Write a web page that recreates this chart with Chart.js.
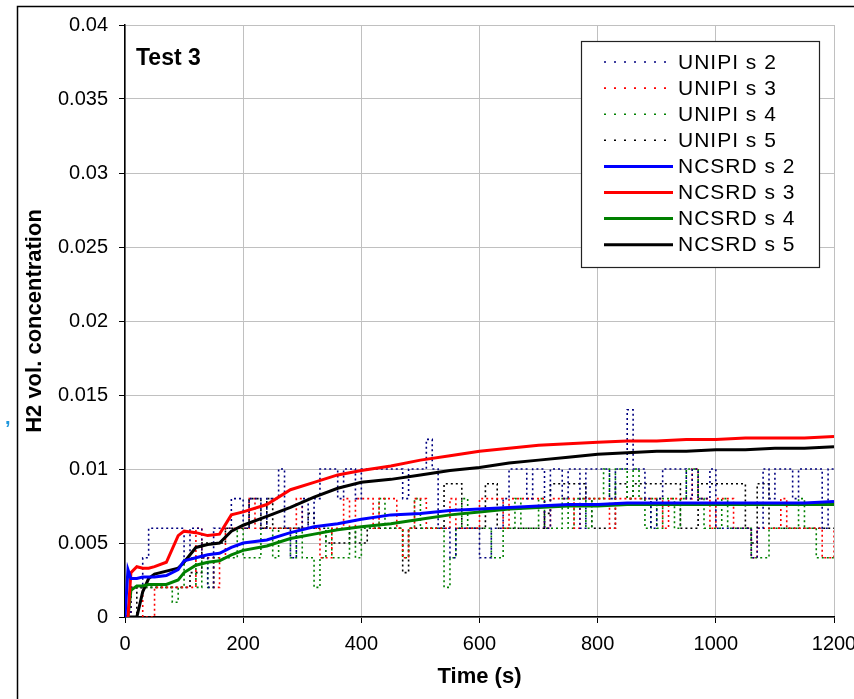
<!DOCTYPE html>
<html>
<head>
<meta charset="utf-8">
<script src="https://cdn.jsdelivr.net/npm/chart.js@4.4.1/dist/chart.umd.min.js"></script>
<style>
  html, body { margin: 0; padding: 0; background: #fff; }
  #wrap { width: 854px; height: 699px; }
</style>
</head>
<body>
<div id="wrap"><canvas id="h2-chart" width="854" height="699"></canvas></div>
<script>
// UNIPI sensors sampled every 10 s
const unipiTime = [
  0, 10, 20, 30, 40, 50, 60, 70, 80, 90,
  100, 110, 120, 130, 140, 150, 160, 170, 180, 190,
  200, 210, 220, 230, 240, 250, 260, 270, 280, 290,
  300, 310, 320, 330, 340, 350, 360, 370, 380, 390,
  400, 410, 420, 430, 440, 450, 460, 470, 480, 490,
  500, 510, 520, 530, 540, 550, 560, 570, 580, 590,
  600, 610, 620, 630, 640, 650, 660, 670, 680, 690,
  700, 710, 720, 730, 740, 750, 760, 770, 780, 790,
  800, 810, 820, 830, 840, 850, 860, 870, 880, 890,
  900, 910, 920, 930, 940, 950, 960, 970, 980, 990,
  1000, 1010, 1020, 1030, 1040, 1050, 1060, 1070, 1080, 1090,
  1100, 1110, 1120, 1130, 1140, 1150, 1160, 1170, 1180, 1190,
  1200
];

const unipiS2 = [
  0, 0.002, 0.002, 0.004, 0.006, 0.006, 0.006, 0.006, 0.006, 0.006,
  0.004, 0.006, 0.006, 0.004, 0.002, 0.006, 0.006, 0.006, 0.008, 0.008,
  0.006, 0.008, 0.008, 0.006, 0.008, 0.008, 0.010, 0.006, 0.004, 0.006,
  0.008, 0.006, 0.008, 0.010, 0.010, 0.010, 0.008, 0.010, 0.010, 0.008,
  0.010, 0.010, 0.010, 0.010, 0.010, 0.010, 0.010, 0.008, 0.010, 0.010,
  0.010, 0.012, 0.010, 0.006, 0.006, 0.004, 0.006, 0.006, 0.006, 0.006,
  0.004, 0.004, 0.006, 0.006, 0.008, 0.010, 0.010, 0.010, 0.008, 0.010,
  0.010, 0.006, 0.010, 0.010, 0.008, 0.010, 0.010, 0.006, 0.010, 0.010,
  0.010, 0.010, 0.008, 0.010, 0.010, 0.014, 0.010, 0.010, 0.008, 0.006,
  0.008, 0.010, 0.010, 0.010, 0.010, 0.008, 0.010, 0.008, 0.008, 0.010,
  0.006, 0.006, 0.006, 0.006, 0.006, 0.006, 0.004, 0.006, 0.010, 0.008,
  0.010, 0.010, 0.010, 0.008, 0.010, 0.010, 0.010, 0.010, 0.006, 0.010,
  0.010
];

const unipiS3 = [
  0, 0.002, 0.002, 0, 0, 0.002, 0.002, 0.002, 0.002, 0.002,
  0.002, 0.002, 0.006, 0.004, 0.004, 0.002, 0.004, 0.006, 0.006, 0.006,
  0.006, 0.008, 0.006, 0.006, 0.006, 0.006, 0.006, 0.006, 0.006, 0.008,
  0.006, 0.006, 0.006, 0.004, 0.004, 0.006, 0.006, 0.008, 0.006, 0.008,
  0.008, 0.008, 0.006, 0.008, 0.008, 0.008, 0.006, 0.004, 0.006, 0.008,
  0.008, 0.006, 0.006, 0.006, 0.006, 0.008, 0.006, 0.006, 0.006, 0.006,
  0.008, 0.008, 0.008, 0.008, 0.006, 0.008, 0.008, 0.008, 0.008, 0.008,
  0.008, 0.006, 0.008, 0.008, 0.008, 0.008, 0.006, 0.008, 0.008, 0.008,
  0.008, 0.008, 0.006, 0.008, 0.008, 0.008, 0.008, 0.008, 0.008, 0.008,
  0.008, 0.006, 0.008, 0.008, 0.008, 0.008, 0.010, 0.008, 0.008, 0.006,
  0.008, 0.008, 0.008, 0.006, 0.006, 0.006, 0.004, 0.006, 0.006, 0.006,
  0.006, 0.008, 0.006, 0.006, 0.006, 0.006, 0.006, 0.006, 0.004, 0.004,
  0.006
];

const unipiS4 = [
  0, 0.002, 0.002, 0.002, 0.002, 0.002, 0.002, 0.002, 0.001, 0.002,
  0.004, 0.004, 0.002, 0.004, 0.002, 0.004, 0.004, 0.004, 0.004, 0.006,
  0.004, 0.004, 0.004, 0.006, 0.006, 0.004, 0.006, 0.006, 0.004, 0.006,
  0.004, 0.004, 0.002, 0.004, 0.006, 0.004, 0.004, 0.004, 0.006, 0.004,
  0.006, 0.006, 0.006, 0.008, 0.006, 0.006, 0.006, 0.004, 0.006, 0.008,
  0.006, 0.006, 0.006, 0.006, 0.002, 0.004, 0.006, 0.008, 0.006, 0.006,
  0.006, 0.006, 0.004, 0.004, 0.006, 0.006, 0.008, 0.006, 0.006, 0.006,
  0.008, 0.006, 0.006, 0.006, 0.008, 0.006, 0.008, 0.008, 0.006, 0.008,
  0.008, 0.010, 0.008, 0.010, 0.010, 0.008, 0.010, 0.008, 0.006, 0.008,
  0.006, 0.008, 0.008, 0.006, 0.008, 0.010, 0.010, 0.008, 0.006, 0.006,
  0.006, 0.008, 0.006, 0.006, 0.006, 0.006, 0.004, 0.004, 0.004, 0.006,
  0.006, 0.006, 0.006, 0.006, 0.008, 0.006, 0.006, 0.004, 0.004, 0.004,
  0.004
];

const unipiS5 = [
  0, 0, 0.002, 0.002, 0.002, 0.002, 0.002, 0.002, 0.002, 0.002,
  0.002, 0.003, 0.003, 0.005, 0.005, 0.005, 0.005, 0.006, 0.006, 0.006,
  0.006, 0.008, 0.008, 0.006, 0.008, 0.006, 0.006, 0.006, 0.006, 0.006,
  0.006, 0.007, 0.006, 0.006, 0.005, 0.005, 0.005, 0.005, 0.006, 0.005,
  0.005, 0.006, 0.006, 0.006, 0.006, 0.006, 0.006, 0.003, 0.006, 0.006,
  0.006, 0.006, 0.006, 0.006, 0.009, 0.009, 0.009, 0.006, 0.006, 0.006,
  0.006, 0.009, 0.009, 0.006, 0.006, 0.006, 0.006, 0.006, 0.006, 0.006,
  0.006, 0.007, 0.009, 0.009, 0.009, 0.009, 0.009, 0.009, 0.008, 0.006,
  0.006, 0.006, 0.006, 0.009, 0.009, 0.008, 0.009, 0.009, 0.009, 0.009,
  0.009, 0.009, 0.009, 0.009, 0.006, 0.006, 0.006, 0.009, 0.009, 0.009,
  0.009, 0.009, 0.009, 0.009, 0.009, 0.006, 0.005, 0.009, 0.009, 0.006,
  0.006, 0.006, 0.006, 0.006, 0.006, 0.006, 0.006, 0.006, 0.006, 0.006,
  0.006
];

// NCSRD simulation results
const ncsrdTime = [0, 5, 10, 20, 30, 40, 50, 70, 90, 100, 120, 140, 160, 180, 200, 240, 280, 320, 360, 400,
  450, 500, 550, 600, 650, 700, 750, 800, 850, 900, 950, 1000, 1050, 1100, 1150, 1200];

const ncsrdS2 = [0, 0.0032, 0.0026, 0.0026, 0.0027, 0.0027, 0.0027, 0.0028, 0.0032, 0.0038, 0.0040, 0.0042, 0.0043, 0.0047, 0.0050, 0.0052, 0.0057, 0.0061, 0.0063, 0.0066,
  0.0069, 0.0070, 0.0072, 0.0073, 0.0074, 0.0075, 0.0076, 0.0076, 0.0077, 0.0077, 0.0077, 0.0077, 0.0077, 0.0077, 0.0077, 0.0078];
const ncsrdS3 = [0, 0, 0.0030, 0.0034, 0.0033, 0.0033, 0.0034, 0.0037, 0.0055, 0.0058, 0.0057, 0.0055, 0.0056, 0.0069, 0.0071, 0.0076, 0.0086, 0.0091, 0.0096, 0.0099,
  0.0102, 0.0106, 0.0109, 0.0112, 0.0114, 0.0116, 0.0117, 0.0118, 0.0119, 0.0119, 0.0120, 0.0120, 0.0121, 0.0121, 0.0121, 0.0122];
const ncsrdS4 = [0, 0, 0.0018, 0.0021, 0.0021, 0.0022, 0.0022, 0.0022, 0.0025, 0.0030, 0.0035, 0.0037, 0.0038, 0.0042, 0.0045, 0.0048, 0.0053, 0.0056, 0.0059, 0.0061,
  0.0063, 0.0066, 0.0069, 0.0071, 0.0073, 0.0074, 0.0075, 0.0075, 0.0076, 0.0076, 0.0076, 0.0076, 0.0076, 0.0076, 0.0076, 0.0076];
const ncsrdS5 = [0, 0, 0, 0, 0.0017, 0.0026, 0.0029, 0.0031, 0.0033, 0.0037, 0.0047, 0.0049, 0.0050, 0.0058, 0.0062, 0.0068, 0.0074, 0.0081, 0.0087, 0.0091,
  0.0093, 0.0096, 0.0099, 0.0101, 0.0104, 0.0106, 0.0108, 0.0110, 0.0111, 0.0112, 0.0112, 0.0113, 0.0113, 0.0114, 0.0114, 0.0115];

const seriesNames = ['UNIPI s 2', 'UNIPI s 3', 'UNIPI s 4', 'UNIPI s 5', 'NCSRD s 2', 'NCSRD s 3', 'NCSRD s 4', 'NCSRD s 5'];
const xTicks = [0, 200, 400, 600, 800, 1000, 1200];

function pts(times, vals) {
    return times.map((t, i) => ({ x: t, y: vals[i] }));
}

function unipi(label, vals, color) {
    return {
        label: label,
        data: pts(unipiTime, vals),
        borderColor: color,
        borderWidth: 1.6,
        borderDash: [2, 3],
        stepped: true,
        pointRadius: 0,
        order: 2
    };
}

function ncsrd(label, vals, color) {
    return {
        label: label,
        data: pts(ncsrdTime, vals),
        borderColor: color,
        borderWidth: 3,
        pointRadius: 0,
        tension: 0,
        order: 1
    };
}

// legend, frame and the "Test 3" note
const decorations = {
    id: 'decorations',
    beforeDraw(chart) {
        const ctx = chart.ctx;
        ctx.save();
        ctx.fillStyle = '#fff';
        ctx.fillRect(0, 0, chart.width, chart.height);
        ctx.restore();
    },
    afterDraw(chart) {
        const ctx = chart.ctx;
        ctx.save();
        // outer frame (left and top edges)
        ctx.strokeStyle = '#000';
        ctx.lineWidth = 1.5;
        ctx.beginPath();
        ctx.moveTo(17.5, 699);
        ctx.lineTo(17.5, 6.5);
        ctx.lineTo(854, 6.5);
        ctx.stroke();

        ctx.fillStyle = '#000';
        ctx.font = 'bold 23px "Liberation Sans", Arial, sans-serif';
        ctx.textBaseline = 'middle';
        ctx.textAlign = 'left';
        ctx.fillText('Test 3', 136, 59);

        ctx.fillStyle = '#1e96dc';
        ctx.font = 'bold 20px "Liberation Sans", Arial, sans-serif';
        ctx.fillText(',', 5, 418);

        // legend box
        const bx = 581.5, by = 41.5, bw = 238, bh = 226;
        ctx.fillStyle = '#fff';
        ctx.fillRect(bx, by, bw, bh);
        ctx.strokeStyle = '#222';
        ctx.lineWidth = 1.2;
        ctx.strokeRect(bx, by, bw, bh);

        ctx.font = '21px "Liberation Sans", Arial, sans-serif';
        ctx.letterSpacing = '1px';
        chart.data.datasets.forEach((ds, i) => {
            const y = 62 + i * 26.1;
            ctx.strokeStyle = ds.borderColor;
            if (ds.borderDash) {
                ctx.lineWidth = 1.6;
                ctx.setLineDash([2, 8]);
            } else {
                ctx.lineWidth = 3;
                ctx.setLineDash([]);
            }
            ctx.beginPath();
            ctx.moveTo(604, y);
            ctx.lineTo(673, y);
            ctx.stroke();
            ctx.setLineDash([]);
            ctx.fillStyle = '#000';
            ctx.fillText(ds.label, 678, y + 1);
        });
        ctx.restore();
    }
};

Chart.defaults.font.family = '"Liberation Sans", Arial, sans-serif';
Chart.defaults.color = '#000';

const ctx = document.getElementById('h2-chart').getContext('2d');

new Chart(ctx, {
    type: 'line',
    data: {
        datasets: [
            unipi(seriesNames[0], unipiS2, '#000080'),
            unipi(seriesNames[1], unipiS3, '#ff0000'),
            unipi(seriesNames[2], unipiS4, '#008000'),
            unipi(seriesNames[3], unipiS5, '#000000'),
            ncsrd(seriesNames[4], ncsrdS2, '#0000ff'),
            ncsrd(seriesNames[5], ncsrdS3, '#ff0000'),
            ncsrd(seriesNames[6], ncsrdS4, '#008000'),
            ncsrd(seriesNames[7], ncsrdS5, '#000000')
        ]
    },
    options: {
        responsive: false,
        animation: false,
        layout: { padding: { left: 0, top: 25, right: 20, bottom: 0 } },
        plugins: {
            legend: { display: false },
            tooltip: { enabled: false }
        },
        scales: {
            x: {
                type: 'linear',
                min: 0,
                max: 1200,
                afterFit(s) { s.height = 82; s.paddingLeft = 0; s.paddingRight = 0; },
                afterBuildTicks(s) { s.ticks = xTicks.map(v => ({ value: v })); },
                grid: { color: '#c0c0c0', tickColor: '#000', tickLength: 6, lineWidth: 1 },
                border: { color: '#000', width: 1.5 },
                ticks: { font: { size: 20 }, padding: 9, maxRotation: 0, callback: v => String(v) },
                title: {
                    display: true,
                    text: 'Time (s)',
                    font: { size: 22, weight: 'bold' },
                    padding: { top: 0, bottom: 9 }
                }
            },
            y: {
                min: 0,
                max: 0.04,
                afterFit(s) { s.width = 125; s.paddingTop = 0; s.paddingBottom = 0; },
                grid: { color: '#c0c0c0', tickColor: '#000', tickLength: 6, lineWidth: 1 },
                border: { color: '#000', width: 1.5 },
                ticks: {
                    stepSize: 0.005,
                    font: { size: 20 },
                    padding: 11,
                    callback: v => String(Number(v.toFixed(3)))
                },
                title: {
                    display: true,
                    text: 'H2 vol. concentration',
                    font: { size: 22, weight: 'bold' },
                    padding: { top: 22, bottom: 0 }
                }
            }
        }
    },
    plugins: [decorations]
});
</script>
</body>
</html>
